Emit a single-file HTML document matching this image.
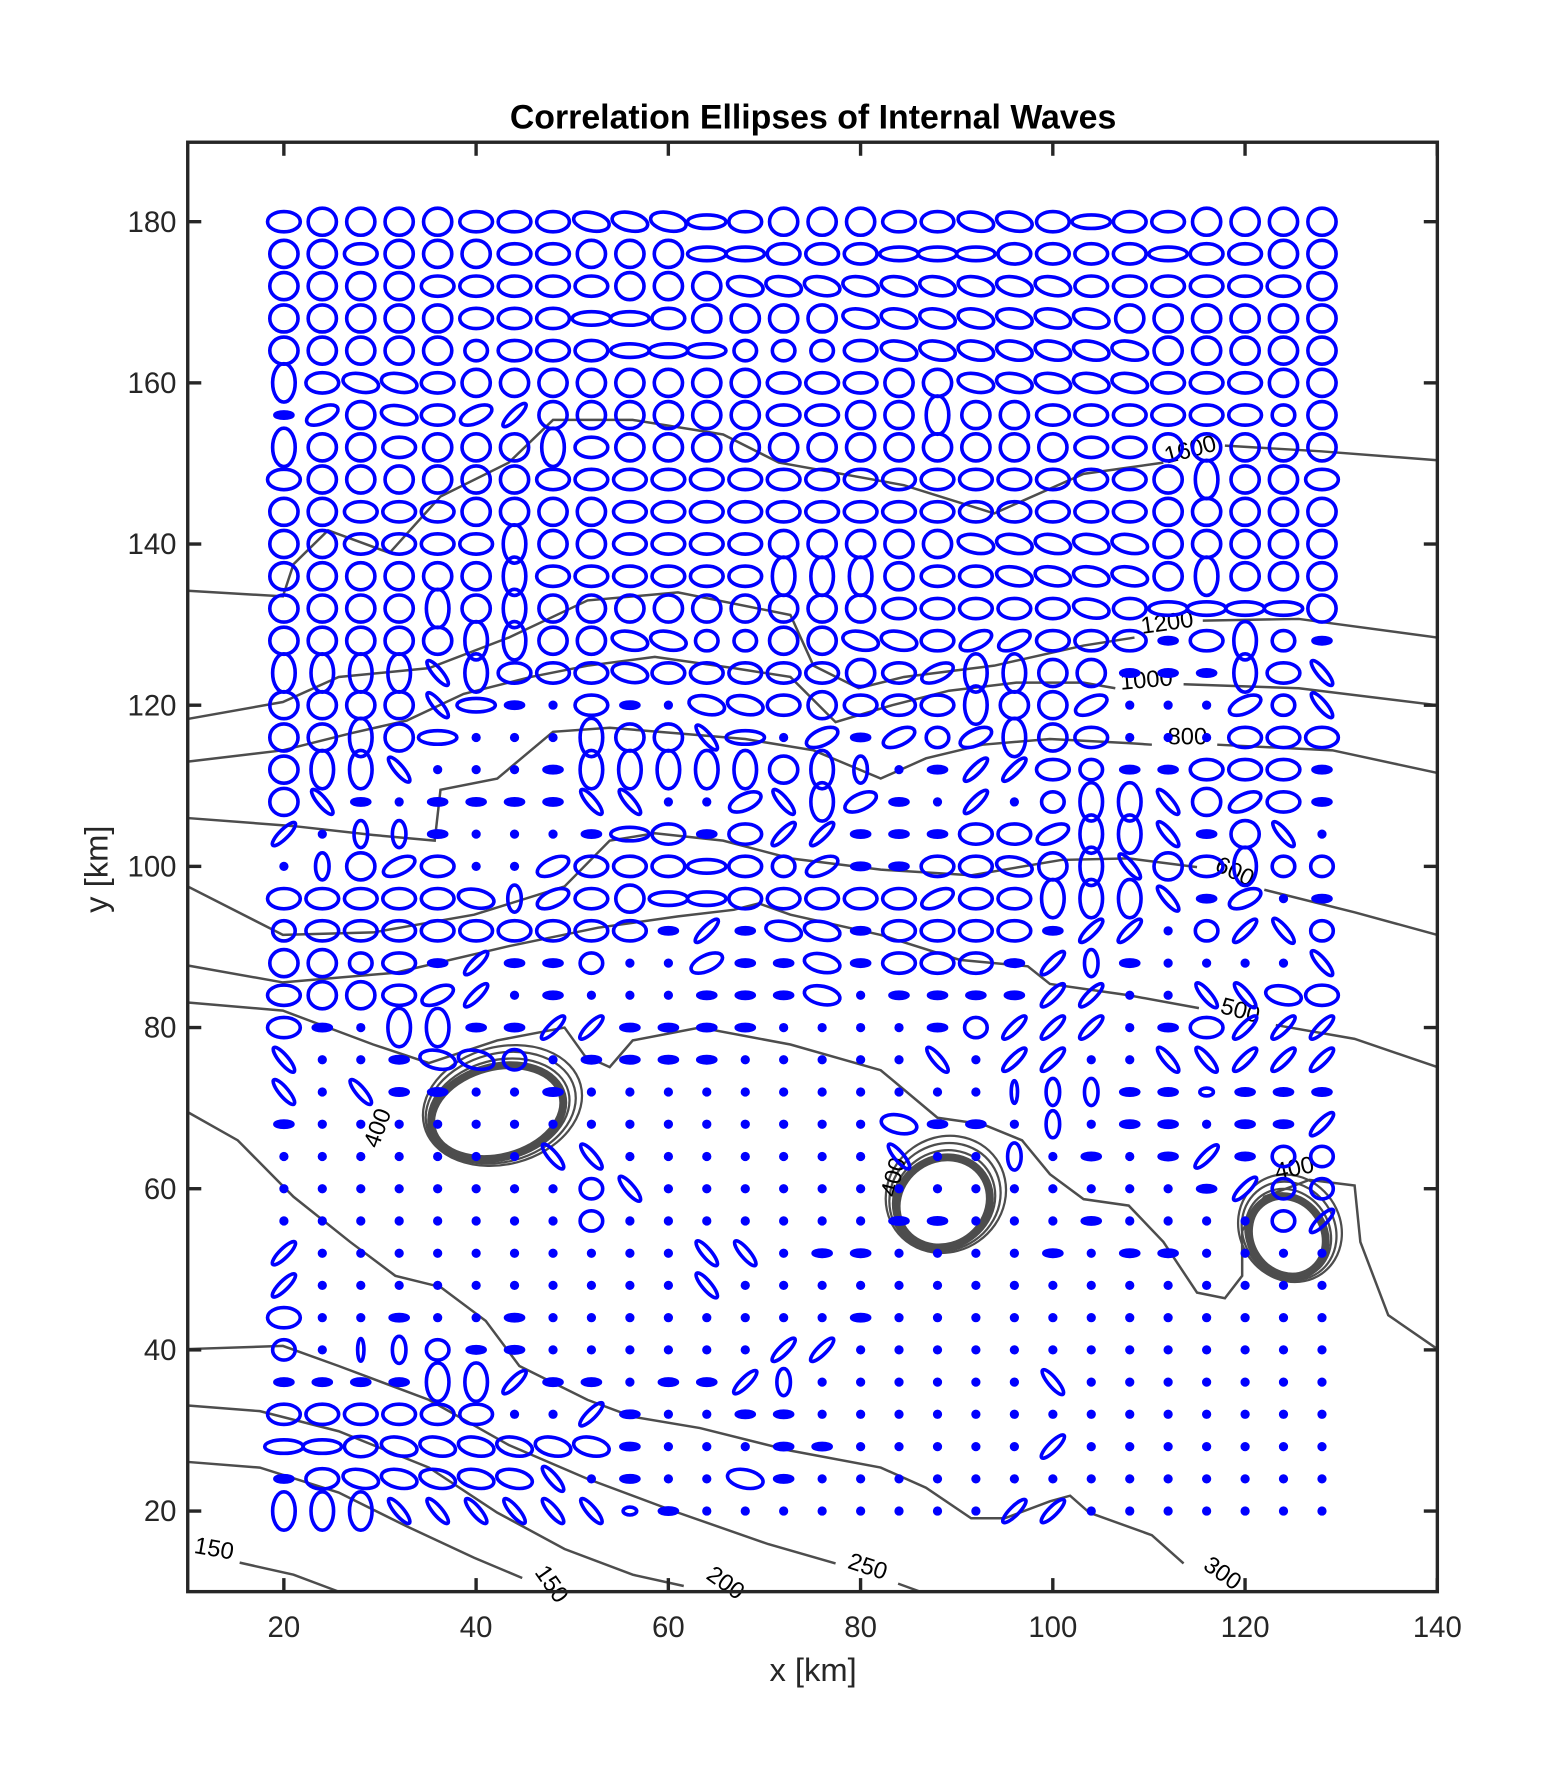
<!DOCTYPE html>
<html><head><meta charset="utf-8"><title>Correlation Ellipses of Internal Waves</title>
<style>
html,body{margin:0;padding:0;background:#fff;}
svg{display:block;}
text{font-family:"Liberation Sans",Arial,sans-serif;}
</style></head>
<body>
<svg id="chart" width="1563" height="1770" viewBox="0 0 1384 1568" xmlns="http://www.w3.org/2000/svg">
<rect x="0" y="0" width="1384" height="1568" fill="#fff"/>
<text x="720" y="114" text-anchor="middle" font-size="30" font-weight="bold" fill="#000">Correlation Ellipses of Internal Waves</text>
<g id="contours"></g>
<g id="ellipses"></g>
<g id="axes"></g>
<text x="720" y="1489" text-anchor="middle" font-size="29" fill="#262626">x [km]</text>
<text x="95" y="770" text-anchor="middle" font-size="29" fill="#262626" transform="rotate(-90 95 770)">y [km]</text>
</svg>
<script>
// ---- data ----
const xTicks = [20, 40, 60, 80, 100, 120, 140];
const yTicks = [20, 40, 60, 80, 100, 120, 140, 160, 180];
const gridX0 = 20, gridDX = 4;
const rowY = [180,176,172,168,164,160,156,152,148,144,140,136,132,128,124,120,116,112,108,104,100,96,92,88,84,80,76,72,68,64,60,56,52,48,44,40,36,32,28,24,20];
const rowShapes = [
"hOOOOhhheeeHhOOOhheehHhhOOOO",
"OOhOOOhhOOOHHhhhHHHhhhhHhhOO",
"OOOOhhhhhOOOeeeeeeeeehhhhhhO",
"OOOOOhhhHHhOOOOeeeeeeeOOOOOO",
"OOOOOohhhHHHoooheeeeeeeOOOOO",
"VheehOOOOOOOOhhhOOeeeeehhhOO",
"-EOehE/OOOOOOhhOOVOOhhhhhhoO",
"VOOhOOOVhOOOOOOOOOOOOhhOOOOO",
"hOOOOOOhhhhhhhhhhhhhhhhOVOOh",
"OOhhhOOOOhhhhhhhhhhhhhhOOOOO",
"OOhhhhVOOhhhhOOOOOeeeeeOOOOO",
"OOOOOOVhhhhhhVVVOhheeeeOVOOO",
"OOOOVOVOOOOOOOOOhhhhhehHHHHO",
"OOOOOVVOOeeooOOeehEEhhh-hVo-",
"VVVVbVhhhehhhhhOhEVVOO---Vhb",
"OOOObH-.h-.eehOhhhVOOE...Eob",
"OOVOH...VOObH.E-EoEVOh...hhh",
"OVVb...-VVVVVOVv.-//ho--hhh-",
"Ob-.----bb..EbVE-./.oVVbOEh-",
"/.vv-...-Hh-h//---hhEVVb-Ob.",
".vOEh..EhhhHhoE--hheOVbOhVoo",
"hhhhhevEhOHHhhhhhEhhVVVb-E.-",
"ohhhhhhhhh-/-ee-hhhh-//.o/bo",
"OOoh-/--o..E--e-hhh-/v-....b",
"hOOhE/.-...---e.----//..bbeh",
"h-.VV--//----....-o///.-h///",
"b..-eeo.----.....b.//..bb///",
"b.b--..-...........|vv--s---",
"-...............e--.v.--.--/",
".......bb.......b..v.-.-/-oo",
"........ob..............-/oo",
"........o.......--...-....o/",
"/..........bb.--....-.--....",
"/..........b................",
"h..-..-........-............",
"o.|vo--......//.............",
"----VV/--.--/v......b.......",
"hhhhhh../-..--..............",
"HHheeeeee-...--...../.......",
"-heeeeeb.-..e-..............",
"VVVbbbbbbs-........//......."
];
// contour lines, [x km, y km] pairs
const c1600a = [[10,134.2],[19.9,133.5],[21,137.5],[24.6,141.7],[31,138.9],[36.3,145.9],[43.4,150.1],[48,155.4],[56.3,155.4],[65.7,153.6],[71.5,150.1],[84.5,147.3],[93.9,143.8],[103.2,148.7],[111.5,150.1]];
const c1600b = [[117.9,152.2],[127.9,151.5],[140,150.4]];
const c1200a = [[10,118.3],[19.9,120.4],[25.7,123.5],[35.1,124.6],[43.4,128.4],[51.6,133],[61,134],[72.7,131.2],[75.1,124.9],[79.8,122.1],[84.5,123.5],[93.9,124.9],[103.2,127.4],[108.5,128.4]];
const c1200b = [[115.6,130.5],[125.6,130.7],[140,128.4]];
const c1000a = [[10,113],[19.9,114.4],[26.9,116.5],[32.8,118.1],[38.7,121.4],[45.7,123.5],[51.6,124.9],[58.6,126],[66.8,124.6],[72.7,123.5],[77.4,117.9],[83.3,120],[89.2,121.8],[96.2,122.8],[103.2,122.8],[106.5,122.1]];
const c1000b = [[113.6,122.6],[125.6,122.1],[140,120]];
const c800a = [[10,106],[21,105],[29.3,103.9],[35.7,103.2],[36.3,109.5],[42.2,110.9],[48,116.7],[53.9,117.2],[61,116.5],[68,115.8],[75.1,114.4],[82.1,110.9],[86.8,113.4],[92.7,115.1],[99.7,115.8],[107.9,115.3],[110.3,115.1]];
const c800b = [[117.1,115.1],[129.1,114.4],[140,111.6]];
const c600a = [[10,97.5],[19.9,91.5],[29.3,91.8],[39.8,94],[49.2,97.5],[53.9,103.2],[58.6,104.1],[65.7,103.2],[72.7,101],[82.1,99.6],[91.5,98.9],[100.9,100.8],[107.9,101],[115,99.9]];
const c600b = [[122,97.1],[131.4,94.3],[140,91.5]];
const c500a = [[10,87.7],[19.9,85.6],[31.6,86.8],[43.4,90.1],[52.7,92.4],[61,93.8],[66.8,94.6],[69.4,95.4],[72.7,94],[82.1,91.5],[90.3,88.4],[97.4,87.6],[99.7,85.4],[107.9,84],[115.2,82.4]];
const c500b = [[123.2,80.3],[131.4,78.6],[140,75.1]];
const c400 = [[10,83.1],[19.9,82.1],[29.3,77.9],[35.1,75.6],[42.2,78.4],[49.2,80],[51.3,76.5],[53.9,75.1],[56.3,78.4],[63.3,80],[72.7,77.9],[82.1,74.7],[88,68.8],[92.7,68],[96.8,66],[99.7,61.8],[103.2,58.7],[107.9,57.9],[111.5,53.4],[115,47.1],[117.9,46.4],[119.7,49.2],[119.7,54.8],[122,59],[126.7,61.1],[131.4,60.4],[132,53.4],[134.9,44.3],[140,40.1]];
const c300 = [[10,69.5],[15.2,66],[21,59],[26.9,53.4],[31.6,49.2],[36.3,47.8],[41,43.6],[44.5,38],[51.6,33.8],[56.3,31.7],[63.3,30.3],[72.7,27.5],[82.1,25.4],[86.8,22.9],[91.5,19.1],[95,19.1],[99.7,21.2],[101.8,21.9],[103.8,19.8],[110.3,17],[113.6,13.5]];
const c250a = [[10,40.1],[19.9,40.5],[25.7,38],[35.1,33.8],[43.4,28.2],[51.6,24],[61,19.8],[70.4,15.9],[77.4,13.5]];
const c250b = [[83.9,11],[86.2,10]];
const c200 = [[10,33.1],[17.5,32.4],[25.7,29.9],[35.1,25.4],[42.2,19.8],[49.2,15.3],[56.3,12.1],[61.6,10.7]];
const c150a = [[10,26.1],[17.5,25.4],[25.7,22.3],[32.8,18.1],[39.8,14.2],[44.8,11.7]];
const c150b = [[15.4,13.6],[21,12.1],[25.7,10]];
const contourLabels = [["1600",114.5,150.8,-15],["1200",112,129.3,-8],["1000",109.8,122.2,-5],["800",114,115.1,0],["600",118.6,98.5,25],["500",119.3,81.2,15],["400",30.5,67.2,-70],["400",84.2,61.2,-75],["400",125.3,61.6,-12],["300",117.2,11.5,35],["250",80.5,12.2,18],["200",65.5,10.3,35],["150",47.2,10.4,55],["150",12.6,14.4,10]];
// islands: center x, center y (km), semi-axes (km), rotation
const islandX = [42.2, 88.6, 124.4];
const islandY = [69.5, 58.3, 54.1];
const islandRX = [7.0, 5.0, 3.8];
const islandRY = [5.6, 5.4, 5.2];
const islandRot = [-15, -35, -35];

// ---- scales ----
const xS = v => 166 + (v - 10) * 8.515;
const yS = v => 1410 - (v - 10) * 7.1389;
const NS = "http://www.w3.org/2000/svg";
function mk(tag, attrs, parent) {
  const el = document.createElementNS(NS, tag);
  for (const k in attrs) el.setAttribute(k, attrs[k]);
  parent.appendChild(el);
  return el;
}
const shapeStyle = {
  O:[12.5,12,0], o:[10,9,0], h:[14.5,9,0], H:[17,6,0], V:[10,17,0], v:[6,12,0],
  e:[16,8,12], E:[15,7,-25], "/":[14,4,-45], b:[14,4,50], "-":[8,2.8,0],
  ".":[2.5,2.5,0], "|":[2.8,10,0], s:[6,3.5,0]
};
// ---- contours ----
const cg = document.getElementById("contours");
const lines = [c1600a,c1600b,c1200a,c1200b,c1000a,c1000b,c800a,c800b,c600a,c600b,c500a,c500b,c400,c300,c250a,c250b,c200,c150a,c150b];
lines.forEach(function(pts){
  const d = pts.map((p,i)=>(i?"L":"M")+xS(p[0]).toFixed(1)+","+yS(p[1]).toFixed(1)).join("");
  const p = mk("path",{d:d,fill:"none",stroke:"#4d4d4d","stroke-width":"2.2"},cg);
  
  
});
for (let i = 0; i < islandX.length; i++) {
  const cx = xS(islandX[i]), cy = yS(islandY[i]);
  const rx = islandRX[i] * 8.515, ry = islandRY[i] * 7.1389;
  for (let k = 0; k < 4; k++) {
    const e = mk("ellipse",{cx:cx+k*2,cy:cy-k*1.5,rx:rx+k*4,ry:ry+k*4,fill:"none",stroke:"#4d4d4d","stroke-width":k===0?"7":"2",transform:"rotate("+islandRot[i]+" "+cx+" "+cy+")"},cg);
    
    
  }
}
contourLabels.forEach(function(l){
  const x = xS(l[1]), y = yS(l[2]);
  const t = mk("text",{x:x,y:y,"font-size":"21","text-anchor":"middle",fill:"#000",transform:"rotate("+l[3]+" "+x+" "+y+")"},cg);
  t.textContent = l[0];
  
  
});
// ---- ellipses ----
const eg = document.getElementById("ellipses");
rowY.forEach(function(yv, r){
  const s = rowShapes[r];
  for (let c = 0; c < 28; c++) {
    const code = s[c] || ".";
    const st = shapeStyle[code] || shapeStyle["."];
    const cx = xS(gridX0 + c * gridDX), cy = yS(yv);
    const small = st[1] < 3;
    const e = mk("ellipse",{cx:cx.toFixed(1),cy:cy.toFixed(1),rx:st[0],ry:st[1],
      fill: small ? "#0000ff" : "none", stroke:"#0000ff","stroke-width":"3.2",
      transform:"rotate("+st[2]+" "+cx.toFixed(1)+" "+cy.toFixed(1)+")"},eg);
    
    
  }
});
// ---- axes ----
const ag = document.getElementById("axes");
const box = mk("rect",{x:166,y:126,width:1107,height:1284,fill:"none",stroke:"#262626","stroke-width":"3"},ag);


xTicks.forEach(function(v){
  const x = xS(v);
  const t1 = mk("line",{x1:x,x2:x,y1:1410,y2:1398,stroke:"#262626","stroke-width":"3"},ag);
  
  
  const t2 = mk("line",{x1:x,x2:x,y1:126,y2:138,stroke:"#262626","stroke-width":"3"},ag);
  
  
  const lb = mk("text",{x:x,y:1450,"text-anchor":"middle","font-size":"26",fill:"#262626"},ag);
  lb.textContent = v;
  
  
});
yTicks.forEach(function(v){
  const y = yS(v);
  const t1 = mk("line",{x1:166,x2:178,y1:y,y2:y,stroke:"#262626","stroke-width":"3"},ag);
  
  
  const t2 = mk("line",{x1:1261,x2:1273,y1:y,y2:y,stroke:"#262626","stroke-width":"3"},ag);
  
  
  const lb = mk("text",{x:156,y:y+9,"text-anchor":"end","font-size":"26",fill:"#262626"},ag);
  lb.textContent = v;
  
  
});
</script>
</body></html>
